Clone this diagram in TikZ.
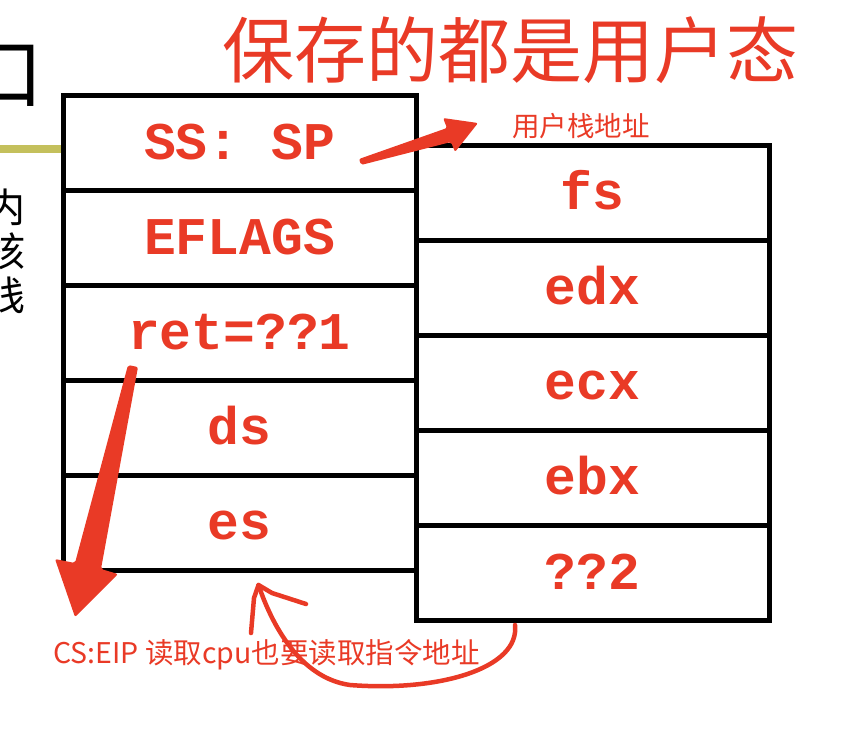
\documentclass[tikz,border=0pt]{standalone}
\usepackage{fontspec}
\setmonofont{Liberation Mono}
\newfontfamily\cjk{Noto Sans CJK SC}
\usetikzlibrary{positioning,calc}
\definecolor{noteRed}{RGB}{233,58,38}
\definecolor{slideOlive}{RGB}{196,192,92}

\begin{document}
\begin{tikzpicture}[x=1pt, y=-1pt,
    cell/.style={draw, line width=5pt, minimum width=353pt, minimum height=95pt,
      inner sep=0pt, outer sep=0pt, text=noteRed, text height=33pt, text depth=0pt,
      font=\fontsize{53}{60}\selectfont\ttfamily\bfseries},
    note/.style={text=noteRed, inner sep=0pt},
    pen/.style={draw=noteRed, line width=4.5pt, line cap=round, line join=round}
  ]
  \clip (0,0) rectangle (850,736);
  % slide remains on the left
  \coordinate (oleft) at (0,149);
  \node[inner sep=0pt, font=\cjk\fontsize{78}{80}\selectfont] (kou) at (5,76) {口};
  \node[inner sep=0pt, align=center, font=\cjk\fontsize{40}{44}\selectfont] (kstack) at (6,251) {内\\核\\栈};
  \draw[slideOlive, line width=8pt] (oleft) -- (oleft -| 63,0);
  % kernel stack, left column
  \node[cell] (l1) at (239.5,142.5) {SS: SP};
  \node[cell, below=0pt of l1] (l2) {EFLAGS};
  \node[cell, below=0pt of l2] (l3) {ret=??1};
  \node[cell, below=0pt of l3] (l4) {ds};
  \node[cell, below=0pt of l4] (l5) {es};
  % right column
  \node[cell, anchor=north west] (r1) at ($(l1.north east)+(0,50)$) {fs};
  \node[cell, below=0pt of r1] (r2) {edx};
  \node[cell, below=0pt of r2] (r3) {ecx};
  \node[cell, below=0pt of r3] (r4) {ebx};
  \node[cell, below=0pt of r4] (r5) {??2};
  % notes
  \node[note, font=\cjk\fontsize{72}{80}\selectfont] (title) at (510,50) {保存的都是用户态};
  \node[note, font=\cjk\fontsize{27.5}{30}\selectfont] (usr) at (581,126) {用户栈地址};
  \node[note, anchor=west, font=\cjk\fontsize{28.5}{30}\selectfont] (cseip) at (53,655) {CS:EIP 读取cpu也要读取指令地址};
  % arrow to user stack
  \fill[noteRed, rounded corners=2pt] (359,159) -- (447,128) -- (443,118) -- (478,123)
    -- (455,152) -- (451,142) -- (361,165) -- cycle;
  % arrow down to CS:EIP
  \fill[noteRed, rounded corners=2pt] (128,365) -- (138,367) -- (101,569) -- (118,574)
    -- (75,617) -- (55,559) -- (75,563) -- cycle;
  % hand drawn hook
  \coordinate (hookA) at ($(r5.south west)+(99,5)$);
  \coordinate (hookB) at ($(l5.south)+(19,15)$);
  \draw[pen] (hookA) .. controls (520,668) and (440,692) .. (350,685)
    .. controls (300,678) and (272,625) .. (hookB);
  \draw[pen] (251,633) -- (254,598) -- (hookB) -- (272,593) -- (306,604);
\end{tikzpicture}
\end{document}
